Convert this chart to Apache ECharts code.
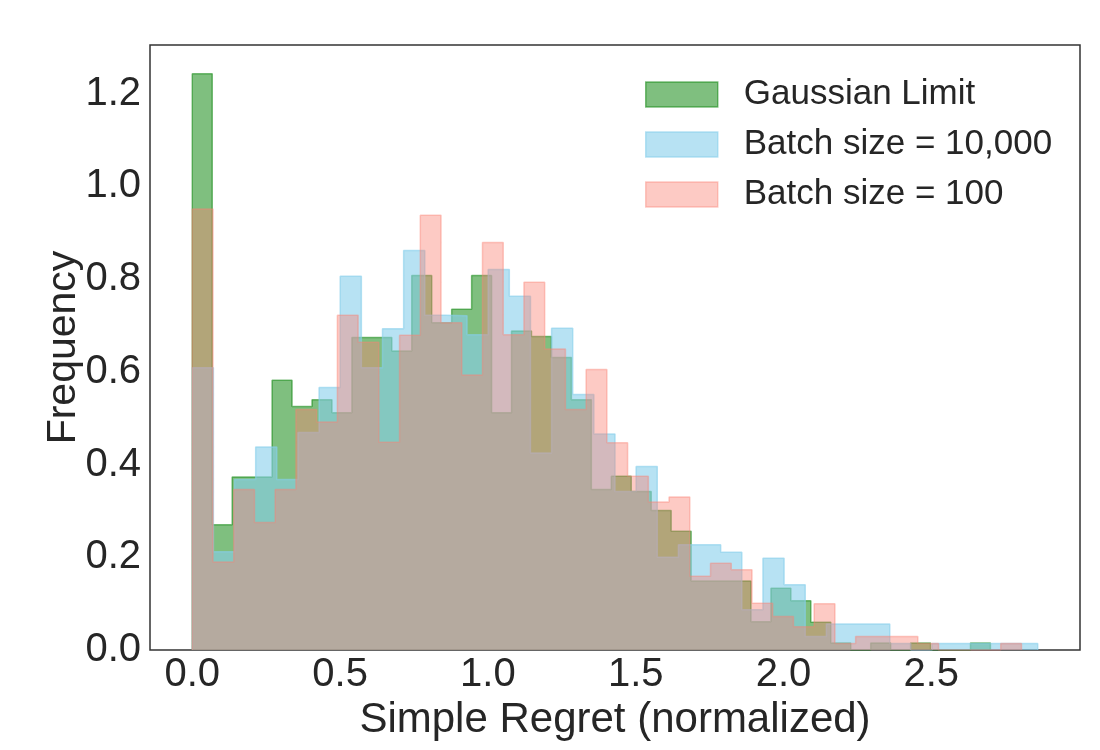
<!DOCTYPE html>
<html>
<head>
<meta charset="utf-8">
<script src="https://cdn.jsdelivr.net/npm/echarts@6/dist/echarts.min.js"></script>
<style>
    html, body { margin: 0; padding: 0; background: #fff; }
    #chart { width: 1100px; height: 750px; }
</style>
</head>
<body>
<div id="chart"></div>
<script>
// histogram heights (density), 40 equal bins per series
const gaussianLimit = [1.243, 0.270, 0.373, 0.373, 0.582, 0.525, 0.540, 0.512, 0.674, 0.674,
    0.645, 0.808, 0.706, 0.735, 0.808, 0.512, 0.688, 0.676, 0.631, 0.540,
    0.346, 0.375, 0.342, 0.301, 0.256, 0.149, 0.149, 0.149, 0.061, 0.133,
    0.106, 0.060, 0.015, 0, 0.015, 0, 0.015, 0, 0, 0.015]
const batch10000 = [0.609, 0.212, 0.368, 0.438, 0.368, 0.469, 0.566, 0.806, 0.609, 0.693,
    0.862, 0.722, 0.721, 0.680, 0.821, 0.763, 0.425, 0.694, 0.551, 0.466,
    0.342, 0.396, 0.200, 0.227, 0.227, 0.211, 0.087, 0.198, 0.141, 0.029,
    0.056, 0.056, 0.056, 0.014, 0, 0.014, 0.014, 0.014, 0.014, 0.014]
const batch100 = [0.951, 0.190, 0.346, 0.275, 0.346, 0.519, 0.492, 0.722, 0.664, 0.448,
    0.679, 0.938, 0.706, 0.593, 0.879, 0.680, 0.793, 0.649, 0.519, 0.605,
    0.447, 0.375, 0.319, 0.330, 0.159, 0.187, 0.173, 0.101, 0.072, 0.050,
    0.100, 0.014, 0.029, 0.029, 0.029, 0.014, 0, 0, 0, 0.014]

// right end of each histogram's range (all start at 0)
const gaussianMax = 2.70
const batch10000Max = 2.86
const batch100Max = 2.805

const seriesNames = ['Gaussian Limit', 'Batch size = 10,000', 'Batch size = 100']
const xTicks = [0, 0.5, 1.0, 1.5, 2.0, 2.5]
const yTicks = [0, 0.2, 0.4, 0.6, 0.8, 1.0, 1.2]

const fills = ['rgba(0,128,0,0.5)', 'rgba(135,206,235,0.6)', 'rgba(250,128,114,0.42)']
const textColor = '#262626'
const fontFamily = '"Liberation Sans", Arial, sans-serif'

// turn bin heights into step outline points: [edge, height]
const histPoints = (heights, maxX) => {
    const w = maxX / heights.length
    const pts = [[0, 0]]
    heights.forEach((h, i) => pts.push([i * w, h]))
    pts.push([maxX, heights[heights.length - 1]], [maxX, 0])
    return pts
}

const tickFormatter = (ticks) => (v) => {
    const hit = ticks.find(t => Math.abs(t - v) < 1e-6)
    return hit === undefined ? '' : hit.toFixed(1)
}

const stepSeries = (name, heights, maxX, idx) => ({
    name: name,
    type: 'line',
    step: 'end',
    symbol: 'none',
    color: fills[idx],
    data: histPoints(heights, maxX),
    lineStyle: {color: fills[idx], width: 1.5},
    areaStyle: {color: fills[idx], opacity: 1},
    z: 2 + idx,
})

const chart = echarts.init(document.getElementById('chart'), null, {renderer: 'canvas'})

const option = {
    animation: false,
    backgroundColor: '#fff',
    textStyle: {fontFamily: fontFamily, color: textColor},
    grid: {
        left: 150, right: 20, top: 45, bottom: 100,
        show: true,
        borderColor: '#333',
        borderWidth: 1.5,
        backgroundColor: '#fff',
    },
    legend: {
        orient: 'vertical',
        left: 640,
        top: 72,
        icon: 'rect',
        itemWidth: 72,
        itemHeight: 25,
        itemGap: 15,
        textStyle: {fontSize: 35, color: textColor, fontFamily: fontFamily, padding: [0, 0, 0, 21]},
        data: seriesNames.map((n, i) => ({
            name: n,
            itemStyle: {color: fills[i], borderColor: fills[i], borderWidth: 1.5},
        })),
    },
    xAxis: {
        type: 'value',
        min: -0.143,
        max: 3.003,
        splitNumber: 6,
        axisLine: {show: false},
        axisTick: {show: false},
        splitLine: {show: false},
        axisLabel: {
            fontSize: 40, color: textColor, fontFamily: fontFamily, margin: 5,
            showMinLabel: false, showMaxLabel: false,
            formatter: tickFormatter(xTicks),
        },
        name: 'Simple Regret (normalized)',
        nameLocation: 'middle',
        nameGap: 44,
        nameTextStyle: {fontSize: 42, color: textColor, fontFamily: fontFamily},
    },
    yAxis: {
        type: 'value',
        min: 0,
        max: 1.305,
        interval: 0.2,
        axisLine: {show: false},
        axisTick: {show: false},
        splitLine: {show: false},
        axisLabel: {
            fontSize: 40, color: textColor, fontFamily: fontFamily, margin: 9,
            showMaxLabel: false,
            formatter: tickFormatter(yTicks),
        },
        name: 'Frequency',
        nameLocation: 'middle',
        nameGap: 66,
        nameMoveOverlap: false,
        nameTextStyle: {fontSize: 41, color: textColor, fontFamily: fontFamily},
    },
    series: [
        stepSeries(seriesNames[0], gaussianLimit, gaussianMax, 0),
        stepSeries(seriesNames[1], batch10000, batch10000Max, 1),
        stepSeries(seriesNames[2], batch100, batch100Max, 2),
    ],
}

chart.setOption(option)
</script>
</body>
</html>
